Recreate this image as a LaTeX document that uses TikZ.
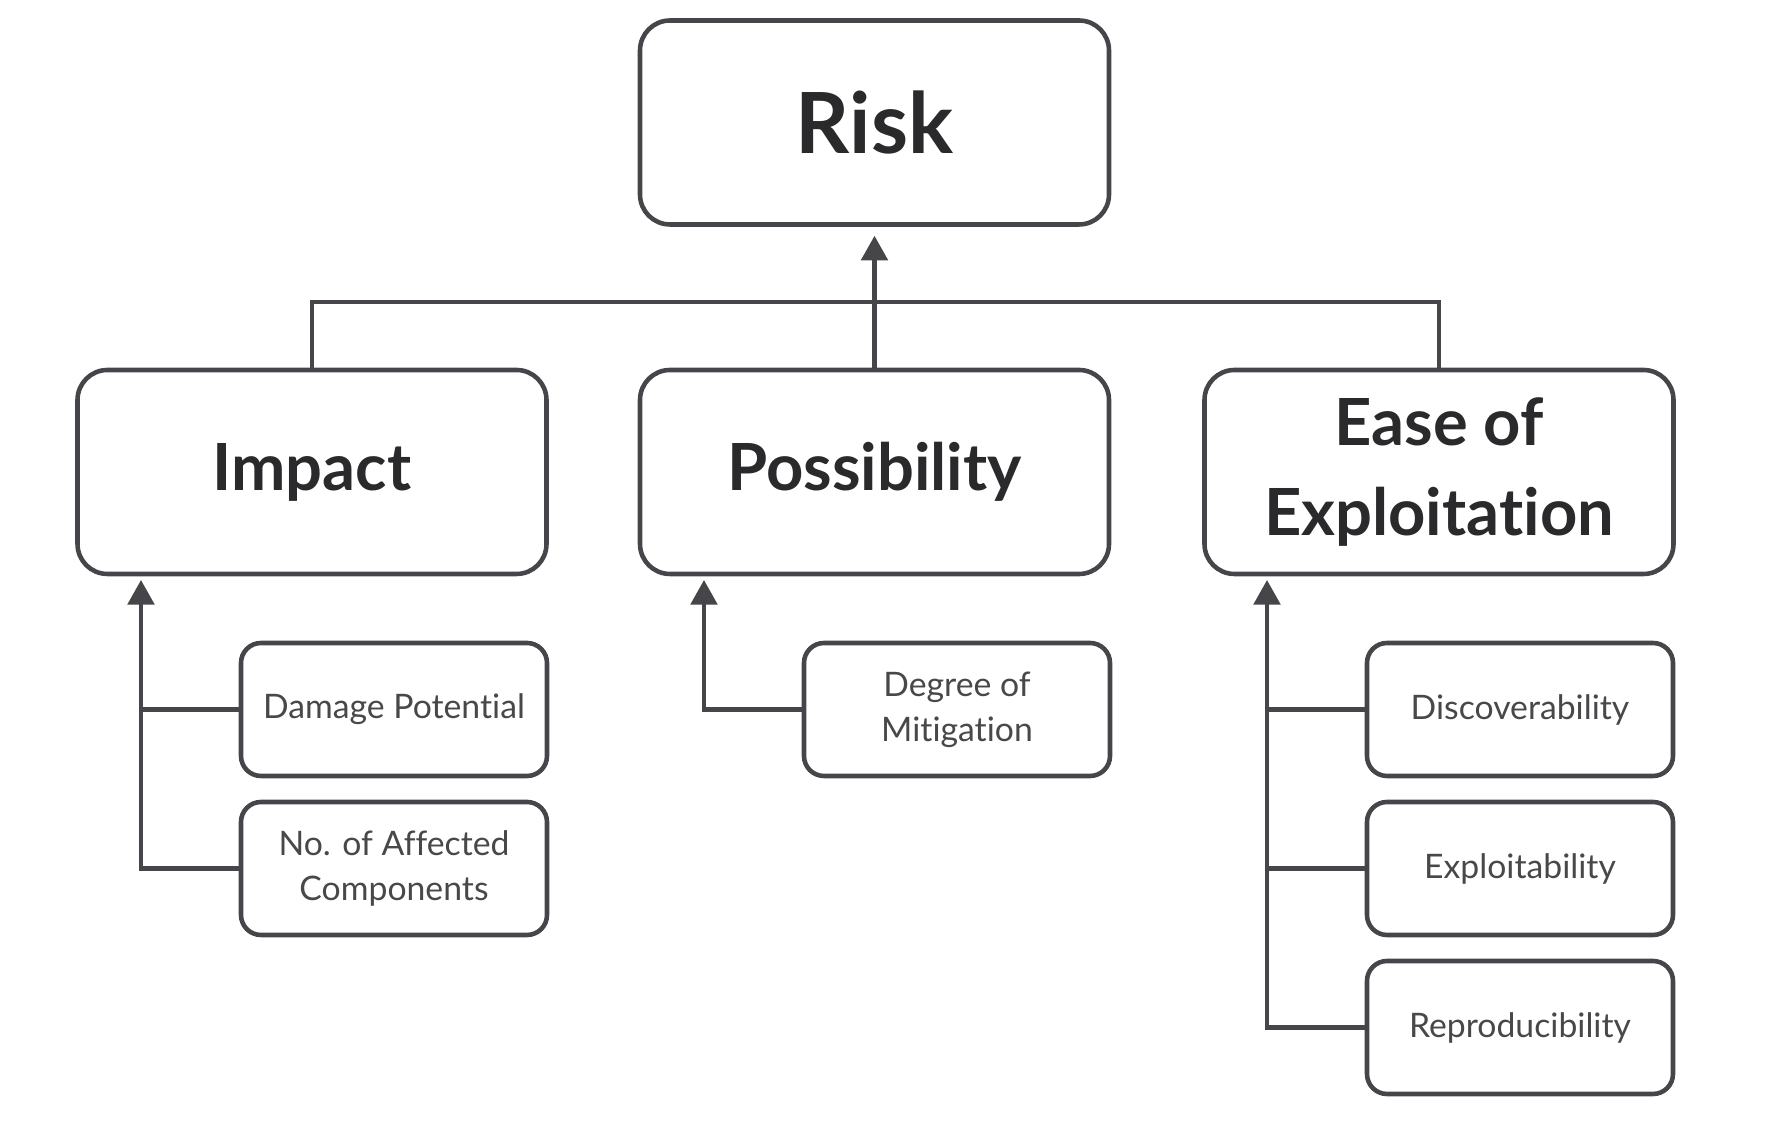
\documentclass[tikz,border=0pt]{standalone}
\usepackage{fontspec}
\setmainfont{Lato}[RawFeature={-liga}]
\usepackage{xcolor}
\usepackage{tikz}
\usetikzlibrary{arrows.meta}

\definecolor{linegray}{HTML}{46464A}
\definecolor{textdark}{HTML}{2A2A2D}
\definecolor{textsub}{HTML}{48484B}

\begin{document}
\begin{tikzpicture}
				\useasboundingbox (0,0) rectangle (17.66,-11.30);

				\begin{scope}[every node/.style={rectangle,rounded corners=0.3cm,draw=linegray,line width=1.3pt,
				              minimum width=4.69cm,minimum height=2.04cm,inner sep=0pt,align=center,
				              text=textdark,font=\bfseries\fontsize{18.5}{25.6}\selectfont}]
				    \node[font=\bfseries\fontsize{24}{28}\selectfont]  (risk) at (8.745,-1.225) {Risk};
				    \node  (impact) at (3.12,-4.72) {Impact};
				    \node  (poss) at (8.745,-4.72) {Possibility};
				    \node  (ease) at (14.39,-4.72) {Ease of\\Exploitation};
				\end{scope}

				\begin{scope}[every node/.style={rectangle,rounded corners=0.2cm,draw=linegray,line width=1.3pt,
				              minimum width=3.06cm,minimum height=1.33cm,inner sep=0pt,align=center,
				              text=textsub,font=\fontsize{9.6}{12.8}\selectfont}]
				    \node  (dmg) at (3.94,-7.095) {Damage Potential};
				    \node  (nocomp) at (3.94,-8.685) {No. of Affected\\Components};
				    \node  (degree) at (9.57,-7.095) {Degree of\\Mitigation};
				    \node  (disc) at (15.20,-7.095) {Discoverability};
				    \node  (expl) at (15.20,-8.685) {Exploitability};
				    \node  (repro) at (15.20,-10.275) {Reproducibility};
				\end{scope}

				\coordinate (impA) at (1.41,-5.80);
				\coordinate (possA) at (7.04,-5.80);
				\coordinate (easeA) at (12.67,-5.80);

				\begin{scope}[>={Triangle[width=7.5pt,length=7pt]},
				              every path/.style={draw=linegray,line width=1.2pt}]
				    \draw (impact.north) -- ++(0,0.66) -| (ease.north);
				    \draw [->,shorten >=0.09cm] (poss.north) -- (risk.south);
				    \draw [->] (nocomp.west) -| (impA);
				    \draw (dmg.west) -- (dmg.west -| impA);
				    \draw [->] (degree.west) -| (possA);
				    \draw [->] (repro.west) -| (easeA);
				    \draw (disc.west) -- (disc.west -| easeA);
				    \draw (expl.west) -- (expl.west -| easeA);
				\end{scope}
\end{tikzpicture}
\end{document}
